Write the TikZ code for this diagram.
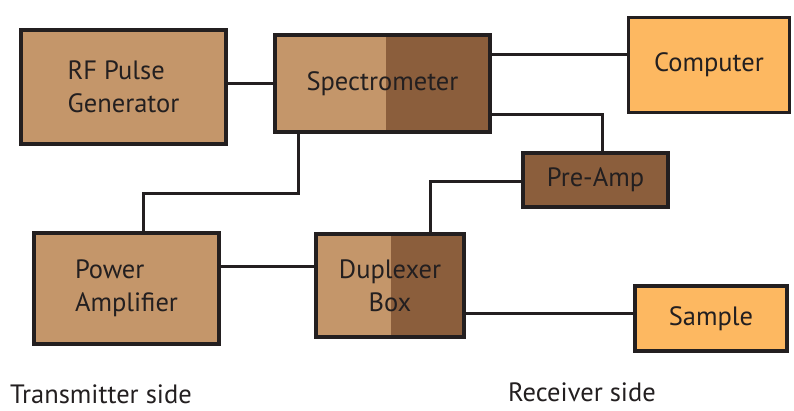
\documentclass[tikz,border=0pt]{standalone}
\usepackage{fontspec}
\setmainfont{PT Sans}
\usetikzlibrary{calc}

\definecolor{tan}{RGB}{196,150,106}
\definecolor{brown}{RGB}{139,94,60}
\definecolor{orange}{RGB}{253,184,97}
\definecolor{ink}{RGB}{35,31,32}

\begin{document}
\begin{tikzpicture} [
    x=1pt, y=1pt,
    every node/.style={text=ink, font=\fontsize{26.5}{33}\selectfont},
    box/.style={draw=ink, line width=3.5pt, inner sep=0pt},
    light/.style={box, fill=tan},
    amber/.style={box, fill=orange},
    dark/.style={box, fill=brown},
    split/.style={box, fill=tan, path picture={
        \fill[brown] ($(path picture bounding box.south west)!#1!(path picture bounding box.south east)$)
          rectangle (path picture bounding box.north east);}},
    wire/.style={draw=ink, line width=3pt}
  ]
  \useasboundingbox (0,0) rectangle (794,410);

  % transmitter side
  \node[light, minimum width=205pt, minimum height=114pt, align=left] (rfgen) at (123.5,323) {RF Pulse\\Generator};
  \node[light, minimum width=185pt, minimum height=111pt, align=left] (poweramp) at (126.5,121.5) {Power\\Amplifier};
  \node[split=0.516, line width=4.5pt, minimum width=215pt, minimum height=97pt] (spectro) at (382.5,326.5) {Spectrometer};
  \node[split=0.51, minimum width=148pt, minimum height=103pt, align=center] (duplexer) at (390,124.5) {Duplexer\\Box};

  % receiver side
  \node[amber, minimum width=161pt, minimum height=95pt] (computer) at (709,345) {Computer};
  \node[dark, minimum width=145pt, minimum height=54pt] (preamp) at (595.5,230) {Pre-Amp};
  \node[amber, minimum width=152pt, minimum height=65pt] (sample) at (711,91.5) {Sample};

  \draw[wire] (spectro.west) -- (spectro.west -| rfgen.east);
  \draw[wire] ([yshift=28.5pt]spectro.east) -- ([yshift=28.5pt]spectro.east -| computer.west);
  \draw[wire] ([yshift=-31.5pt]spectro.east) -| ([xshift=6.5pt]preamp.north);
  \draw[wire] ([yshift=-2pt]preamp.west) -| ([xshift=40pt]duplexer.north);
  \draw[wire] ([xshift=-84.5pt]spectro.south) -- ++(0,-59) -| ([xshift=16.5pt]poweramp.north);
  \draw[wire] ([yshift=22.5pt]poweramp.east) -- ([yshift=22.5pt]poweramp.east -| duplexer.west);
  \draw[wire] ([yshift=-27.5pt]duplexer.east) -- ([yshift=-27.5pt]duplexer.east -| sample.west);

  \node[anchor=base west, inner sep=0pt] (txlabel) at (10,7) {Transmitter side};
  \node[anchor=base west, inner sep=0pt] (rxlabel) at (508,9) {Receiver side};
\end{tikzpicture}
\end{document}
